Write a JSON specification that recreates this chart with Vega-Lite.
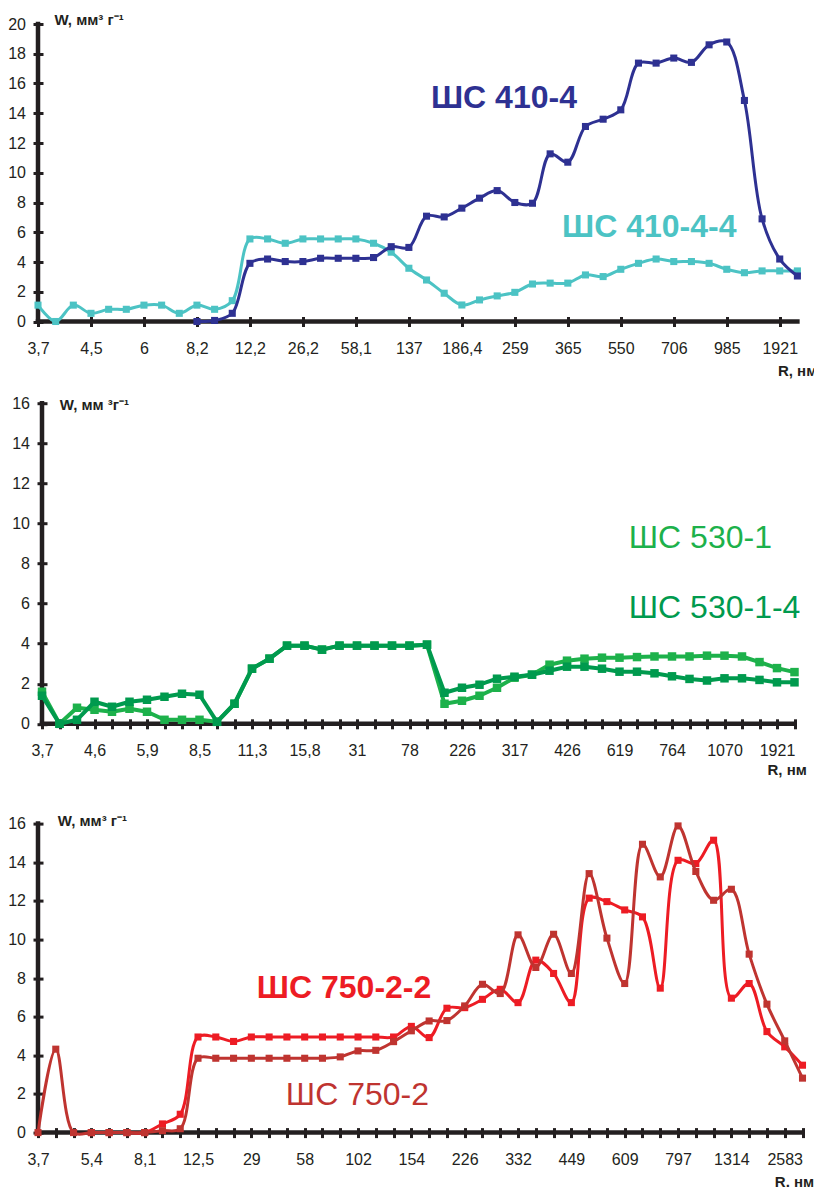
{
  "$schema": "https://vega.github.io/schema/vega-lite/v6.json",
  "padding": {"left": 7, "top": 12, "right": 0, "bottom": 0},
  "background": "white",
  "config": {
    "view": {"stroke": null},
    "font": "Liberation Sans",
    "axis": {"labelFont": "Liberation Sans", "labelFontSize": 16, "labelColor": "#231F20", "tickColor": "#231F20", "tickWidth": 3, "tickSize": 10, "tickCount": 1000, "domain": false, "grid": false, "titleFont": "Liberation Sans", "titleFontWeight": "bold", "titleFontSize": 15, "titleColor": "#231F20", "labelOverlap": false, "labelFlush": false},
    "axisY": {"offset": -5, "labelPadding": 7.5, "titleAngle": 0, "titleAlign": "left", "titleBaseline": "alphabetic"},
    "axisX": {"offset": -5, "labelPadding": 14, "titleAlign": "left", "titleBaseline": "alphabetic", "labelAngle": 0},
    "line": {"strokeJoin": "round"}
  },
  "datasets": {
    "origin": [{"i": 0, "W": 0}],
    "top": [
      {"s":"ШС 410-4-4","i":0,"W":1.1},{"s":"ШС 410-4-4","i":1,"W":0},{"s":"ШС 410-4-4","i":2,"W":1.1},{"s":"ШС 410-4-4","i":3,"W":0.55},{"s":"ШС 410-4-4","i":4,"W":0.82},{"s":"ШС 410-4-4","i":5,"W":0.82},{"s":"ШС 410-4-4","i":6,"W":1.1},{"s":"ШС 410-4-4","i":7,"W":1.1},{"s":"ШС 410-4-4","i":8,"W":0.55},{"s":"ШС 410-4-4","i":9,"W":1.1},{"s":"ШС 410-4-4","i":10,"W":0.82},{"s":"ШС 410-4-4","i":11,"W":1.4},{"s":"ШС 410-4-4","i":12,"W":5.55},{"s":"ШС 410-4-4","i":13,"W":5.55},{"s":"ШС 410-4-4","i":14,"W":5.26},{"s":"ШС 410-4-4","i":15,"W":5.55},{"s":"ШС 410-4-4","i":16,"W":5.55},{"s":"ШС 410-4-4","i":17,"W":5.55},{"s":"ШС 410-4-4","i":18,"W":5.55},{"s":"ШС 410-4-4","i":19,"W":5.26},{"s":"ШС 410-4-4","i":20,"W":4.66},{"s":"ШС 410-4-4","i":21,"W":3.58},{"s":"ШС 410-4-4","i":22,"W":2.79},{"s":"ШС 410-4-4","i":23,"W":1.9},{"s":"ШС 410-4-4","i":24,"W":1.11},{"s":"ШС 410-4-4","i":25,"W":1.45},{"s":"ШС 410-4-4","i":26,"W":1.72},{"s":"ШС 410-4-4","i":27,"W":1.96},{"s":"ШС 410-4-4","i":28,"W":2.52},{"s":"ШС 410-4-4","i":29,"W":2.58},{"s":"ШС 410-4-4","i":30,"W":2.58},{"s":"ШС 410-4-4","i":31,"W":3.13},{"s":"ШС 410-4-4","i":32,"W":3.02},{"s":"ШС 410-4-4","i":33,"W":3.51},{"s":"ШС 410-4-4","i":34,"W":3.91},{"s":"ШС 410-4-4","i":35,"W":4.2},{"s":"ШС 410-4-4","i":36,"W":4.03},{"s":"ШС 410-4-4","i":37,"W":4.03},{"s":"ШС 410-4-4","i":38,"W":3.91},{"s":"ШС 410-4-4","i":39,"W":3.51},{"s":"ШС 410-4-4","i":40,"W":3.28},{"s":"ШС 410-4-4","i":41,"W":3.4},{"s":"ШС 410-4-4","i":42,"W":3.4},{"s":"ШС 410-4-4","i":43,"W":3.4},
      {"s":"ШС 410-4","i":9,"W":0},{"s":"ШС 410-4","i":10,"W":0.07},{"s":"ШС 410-4","i":11,"W":0.55},{"s":"ШС 410-4","i":12,"W":3.91},{"s":"ШС 410-4","i":13,"W":4.2},{"s":"ШС 410-4","i":14,"W":4.03},{"s":"ШС 410-4","i":15,"W":4.03},{"s":"ШС 410-4","i":16,"W":4.25},{"s":"ШС 410-4","i":17,"W":4.25},{"s":"ШС 410-4","i":18,"W":4.25},{"s":"ШС 410-4","i":19,"W":4.3},{"s":"ШС 410-4","i":20,"W":5.03},{"s":"ШС 410-4","i":21,"W":4.98},{"s":"ШС 410-4","i":22,"W":7.08},{"s":"ШС 410-4","i":23,"W":7.03},{"s":"ШС 410-4","i":24,"W":7.62},{"s":"ШС 410-4","i":25,"W":8.29},{"s":"ШС 410-4","i":26,"W":8.8},{"s":"ШС 410-4","i":27,"W":8.0},{"s":"ШС 410-4","i":28,"W":7.95},{"s":"ШС 410-4","i":29,"W":11.27},{"s":"ШС 410-4","i":30,"W":10.71},{"s":"ШС 410-4","i":31,"W":13.11},{"s":"ШС 410-4","i":32,"W":13.6},{"s":"ШС 410-4","i":33,"W":14.23},{"s":"ШС 410-4","i":34,"W":17.37},{"s":"ШС 410-4","i":35,"W":17.37},{"s":"ШС 410-4","i":36,"W":17.71},{"s":"ШС 410-4","i":37,"W":17.42},{"s":"ШС 410-4","i":38,"W":18.6},{"s":"ШС 410-4","i":39,"W":18.79},{"s":"ШС 410-4","i":40,"W":14.86},{"s":"ШС 410-4","i":41,"W":6.9},{"s":"ШС 410-4","i":42,"W":4.2},{"s":"ШС 410-4","i":43,"W":3.06}
    ],
    "topLabels": [
      {"s":"ШС 410-4","i":22.25,"W":14.35},
      {"s":"ШС 410-4-4","i":29.67,"W":5.68}
    ],
    "mid": [
      {"s":"ШС 530-1","i":0,"W":1.6},{"s":"ШС 530-1","i":1,"W":0},{"s":"ШС 530-1","i":2,"W":0.8},{"s":"ШС 530-1","i":3,"W":0.7},{"s":"ШС 530-1","i":4,"W":0.6},{"s":"ШС 530-1","i":5,"W":0.75},{"s":"ШС 530-1","i":6,"W":0.6},{"s":"ШС 530-1","i":7,"W":0.2},{"s":"ШС 530-1","i":8,"W":0.2},{"s":"ШС 530-1","i":9,"W":0.2},{"s":"ШС 530-1","i":10,"W":0.1},{"s":"ШС 530-1","i":11,"W":1.0},{"s":"ШС 530-1","i":12,"W":2.75},{"s":"ШС 530-1","i":13,"W":3.25},{"s":"ШС 530-1","i":14,"W":3.9},{"s":"ШС 530-1","i":15,"W":3.9},{"s":"ШС 530-1","i":16,"W":3.7},{"s":"ШС 530-1","i":17,"W":3.9},{"s":"ШС 530-1","i":18,"W":3.9},{"s":"ШС 530-1","i":19,"W":3.9},{"s":"ШС 530-1","i":20,"W":3.9},{"s":"ШС 530-1","i":21,"W":3.9},{"s":"ШС 530-1","i":22,"W":3.95},{"s":"ШС 530-1","i":23,"W":1.0},{"s":"ШС 530-1","i":24,"W":1.15},{"s":"ШС 530-1","i":25,"W":1.4},{"s":"ШС 530-1","i":26,"W":1.8},{"s":"ШС 530-1","i":27,"W":2.3},{"s":"ШС 530-1","i":28,"W":2.45},{"s":"ШС 530-1","i":29,"W":2.95},{"s":"ШС 530-1","i":30,"W":3.15},{"s":"ШС 530-1","i":31,"W":3.25},{"s":"ШС 530-1","i":32,"W":3.3},{"s":"ШС 530-1","i":33,"W":3.3},{"s":"ШС 530-1","i":34,"W":3.33},{"s":"ШС 530-1","i":35,"W":3.36},{"s":"ШС 530-1","i":36,"W":3.36},{"s":"ШС 530-1","i":37,"W":3.36},{"s":"ШС 530-1","i":38,"W":3.4},{"s":"ШС 530-1","i":39,"W":3.4},{"s":"ШС 530-1","i":40,"W":3.36},{"s":"ШС 530-1","i":41,"W":3.08},{"s":"ШС 530-1","i":42,"W":2.78},{"s":"ШС 530-1","i":43,"W":2.58},
      {"s":"ШС 530-1-4","i":0,"W":1.4},{"s":"ШС 530-1-4","i":1,"W":0},{"s":"ШС 530-1-4","i":2,"W":0.2},{"s":"ШС 530-1-4","i":3,"W":1.1},{"s":"ШС 530-1-4","i":4,"W":0.85},{"s":"ШС 530-1-4","i":5,"W":1.1},{"s":"ШС 530-1-4","i":6,"W":1.2},{"s":"ШС 530-1-4","i":7,"W":1.35},{"s":"ШС 530-1-4","i":8,"W":1.5},{"s":"ШС 530-1-4","i":9,"W":1.45},{"s":"ШС 530-1-4","i":10,"W":0.1},{"s":"ШС 530-1-4","i":11,"W":1.0},{"s":"ШС 530-1-4","i":12,"W":2.75},{"s":"ШС 530-1-4","i":13,"W":3.25},{"s":"ШС 530-1-4","i":14,"W":3.9},{"s":"ШС 530-1-4","i":15,"W":3.9},{"s":"ШС 530-1-4","i":16,"W":3.7},{"s":"ШС 530-1-4","i":17,"W":3.9},{"s":"ШС 530-1-4","i":18,"W":3.9},{"s":"ШС 530-1-4","i":19,"W":3.9},{"s":"ШС 530-1-4","i":20,"W":3.9},{"s":"ШС 530-1-4","i":21,"W":3.9},{"s":"ШС 530-1-4","i":22,"W":3.95},{"s":"ШС 530-1-4","i":23,"W":1.55},{"s":"ШС 530-1-4","i":24,"W":1.8},{"s":"ШС 530-1-4","i":25,"W":1.95},{"s":"ШС 530-1-4","i":26,"W":2.25},{"s":"ШС 530-1-4","i":27,"W":2.35},{"s":"ШС 530-1-4","i":28,"W":2.45},{"s":"ШС 530-1-4","i":29,"W":2.65},{"s":"ШС 530-1-4","i":30,"W":2.85},{"s":"ШС 530-1-4","i":31,"W":2.85},{"s":"ШС 530-1-4","i":32,"W":2.75},{"s":"ШС 530-1-4","i":33,"W":2.6},{"s":"ШС 530-1-4","i":34,"W":2.6},{"s":"ШС 530-1-4","i":35,"W":2.52},{"s":"ШС 530-1-4","i":36,"W":2.37},{"s":"ШС 530-1-4","i":37,"W":2.24},{"s":"ШС 530-1-4","i":38,"W":2.16},{"s":"ШС 530-1-4","i":39,"W":2.27},{"s":"ШС 530-1-4","i":40,"W":2.27},{"s":"ШС 530-1-4","i":41,"W":2.19},{"s":"ШС 530-1-4","i":42,"W":2.07},{"s":"ШС 530-1-4","i":43,"W":2.07}
    ],
    "midLabels": [
      {"s":"ШС 530-1","i":33.53,"W":8.75},
      {"s":"ШС 530-1-4","i":33.53,"W":5.3}
    ],
    "bot": [
      {"s":"ШС 750-2-2","i":3,"W":0},{"s":"ШС 750-2-2","i":4,"W":0},{"s":"ШС 750-2-2","i":5,"W":0},{"s":"ШС 750-2-2","i":6,"W":0},{"s":"ШС 750-2-2","i":7,"W":0.45},{"s":"ШС 750-2-2","i":8,"W":0.95},{"s":"ШС 750-2-2","i":9,"W":4.95},{"s":"ШС 750-2-2","i":10,"W":4.95},{"s":"ШС 750-2-2","i":11,"W":4.72},{"s":"ШС 750-2-2","i":12,"W":4.95},{"s":"ШС 750-2-2","i":13,"W":4.95},{"s":"ШС 750-2-2","i":14,"W":4.95},{"s":"ШС 750-2-2","i":15,"W":4.95},{"s":"ШС 750-2-2","i":16,"W":4.95},{"s":"ШС 750-2-2","i":17,"W":4.95},{"s":"ШС 750-2-2","i":18,"W":4.95},{"s":"ШС 750-2-2","i":19,"W":4.95},{"s":"ШС 750-2-2","i":20,"W":4.95},{"s":"ШС 750-2-2","i":21,"W":5.5},{"s":"ШС 750-2-2","i":22,"W":4.92},{"s":"ШС 750-2-2","i":23,"W":6.44},{"s":"ШС 750-2-2","i":24,"W":6.47},{"s":"ШС 750-2-2","i":25,"W":6.9},{"s":"ШС 750-2-2","i":26,"W":7.42},{"s":"ШС 750-2-2","i":27,"W":6.73},{"s":"ШС 750-2-2","i":28,"W":8.93},{"s":"ШС 750-2-2","i":29,"W":8.24},{"s":"ШС 750-2-2","i":30,"W":6.73},{"s":"ШС 750-2-2","i":31,"W":12.14},{"s":"ШС 750-2-2","i":32,"W":11.96},{"s":"ШС 750-2-2","i":33,"W":11.53},{"s":"ШС 750-2-2","i":34,"W":11.17},{"s":"ШС 750-2-2","i":35,"W":7.48},{"s":"ШС 750-2-2","i":36,"W":14.1},{"s":"ШС 750-2-2","i":37,"W":13.93},{"s":"ШС 750-2-2","i":38,"W":15.14},{"s":"ШС 750-2-2","i":39,"W":6.96},{"s":"ШС 750-2-2","i":40,"W":7.72},{"s":"ШС 750-2-2","i":41,"W":5.23},{"s":"ШС 750-2-2","i":42,"W":4.44},{"s":"ШС 750-2-2","i":43,"W":3.49},
      {"s":"ШС 750-2","i":0,"W":0},{"s":"ШС 750-2","i":1,"W":4.32},{"s":"ШС 750-2","i":2,"W":0},{"s":"ШС 750-2","i":3,"W":0},{"s":"ШС 750-2","i":4,"W":0},{"s":"ШС 750-2","i":5,"W":0},{"s":"ШС 750-2","i":6,"W":0},{"s":"ШС 750-2","i":7,"W":0.1},{"s":"ШС 750-2","i":8,"W":0.2},{"s":"ШС 750-2","i":9,"W":3.85},{"s":"ШС 750-2","i":10,"W":3.85},{"s":"ШС 750-2","i":11,"W":3.85},{"s":"ШС 750-2","i":12,"W":3.85},{"s":"ШС 750-2","i":13,"W":3.85},{"s":"ШС 750-2","i":14,"W":3.85},{"s":"ШС 750-2","i":15,"W":3.85},{"s":"ШС 750-2","i":16,"W":3.85},{"s":"ШС 750-2","i":17,"W":3.92},{"s":"ШС 750-2","i":18,"W":4.23},{"s":"ШС 750-2","i":19,"W":4.26},{"s":"ШС 750-2","i":20,"W":4.71},{"s":"ШС 750-2","i":21,"W":5.27},{"s":"ШС 750-2","i":22,"W":5.78},{"s":"ШС 750-2","i":23,"W":5.8},{"s":"ШС 750-2","i":24,"W":6.56},{"s":"ШС 750-2","i":25,"W":7.68},{"s":"ШС 750-2","i":26,"W":7.2},{"s":"ШС 750-2","i":27,"W":10.24},{"s":"ШС 750-2","i":28,"W":8.55},{"s":"ШС 750-2","i":29,"W":10.27},{"s":"ШС 750-2","i":30,"W":8.24},{"s":"ШС 750-2","i":31,"W":13.41},{"s":"ШС 750-2","i":32,"W":10.07},{"s":"ШС 750-2","i":33,"W":7.72},{"s":"ШС 750-2","i":34,"W":14.93},{"s":"ШС 750-2","i":35,"W":13.24},{"s":"ШС 750-2","i":36,"W":15.88},{"s":"ШС 750-2","i":37,"W":13.52},{"s":"ШС 750-2","i":38,"W":12.03},{"s":"ШС 750-2","i":39,"W":12.6},{"s":"ШС 750-2","i":40,"W":9.24},{"s":"ШС 750-2","i":41,"W":6.65},{"s":"ШС 750-2","i":42,"W":4.75},{"s":"ШС 750-2","i":43,"W":2.82}
    ],
    "botLabels": [
      {"s":"ШС 750-2-2","i":12.31,"W":6.98},
      {"s":"ШС 750-2","i":13.94,"W":1.43}
    ]
  },
  "spacing": 81.2,
  "bounds": "flush",
  "vconcat": [
    {
      "width": 759.4,
      "height": 297.5,
      "layer": [
        {
          "data": {"name": "origin"},
          "mark": {"type": "rule", "stroke": "#231F20", "strokeWidth": 4.5, "strokeCap": "square"},
          "encoding": {
            "x": {"field": "i", "type": "quantitative", "scale": {"domain": [0, 43], "nice": false, "zero": false},
                  "axis": {"title": "R, нм", "titleX": 739.4, "titleY": 58.5, "values": [0,3,6,9,12,15,18,21,24,27,30,33,36,39,42],
                           "labelExpr": "['3,7','4,5','6','8,2','12,2','26,2','58,1','137','186,4','259','365','550','706','985','1921'][round(datum.value/3)]"}},
            "y": {"field": "W", "type": "quantitative", "scale": {"domain": [0, 20], "nice": false, "zero": false},
                  "axis": {"title": "W, мм³ г⁻¹", "titleX": 11, "titleY": 0, "format": "d", "values": [0,2,4,6,8,10,12,14,16,18,20]}},
            "y2": {"datum": 20}
          }
        },
        {
          "data": {"name": "origin"},
          "mark": {"type": "rule", "stroke": "#231F20", "strokeWidth": 4.5, "strokeCap": "square"},
          "encoding": {"x": {"field": "i", "type": "quantitative"}, "x2": {"datum": 43}, "y": {"field": "W", "type": "quantitative"}}
        },
        {
          "data": {"name": "top"},
          "transform": [{"filter": "datum.s == 'ШС 410-4-4'"}],
          "mark": {"type": "line", "strokeWidth": 3, "interpolate": "catmull-rom", "point": {"shape": "square", "size": 50, "filled": true, "opacity": 1}},
          "encoding": {
            "x": {"field": "i", "type": "quantitative"},
            "y": {"field": "W", "type": "quantitative"},
            "color": {"field": "s", "type": "nominal", "legend": null,
                      "scale": {"domain": ["ШС 410-4","ШС 410-4-4","ШС 530-1","ШС 530-1-4","ШС 750-2-2","ШС 750-2"], "range": ["#2E3192","#4CC3C4","#1DB14B","#009A4E","#ED1C24","#BF3430"]}}
          }
        },
        {
          "data": {"name": "top"},
          "transform": [{"filter": "datum.s == 'ШС 410-4'"}],
          "mark": {"type": "line", "strokeWidth": 3, "interpolate": "catmull-rom", "point": {"shape": "square", "size": 50, "filled": true, "opacity": 1}},
          "encoding": {
            "x": {"field": "i", "type": "quantitative"},
            "y": {"field": "W", "type": "quantitative"},
            "color": {"field": "s", "type": "nominal", "legend": null}
          }
        },
        {
          "data": {"name": "topLabels"},
          "mark": {"type": "text", "font": "Liberation Sans", "fontSize": 32, "fontWeight": "bold", "align": "left", "baseline": "alphabetic"},
          "encoding": {
            "x": {"field": "i", "type": "quantitative"},
            "y": {"field": "W", "type": "quantitative"},
            "text": {"field": "s"},
            "color": {"field": "s", "type": "nominal", "legend": null}
          }
        }
      ]
    },
    {
      "spacing": 99.4,
      "bounds": "flush",
      "vconcat": [
        {
          "width": 756.5,
          "height": 320.6,
          "layer": [
            {
              "data": {"name": "origin"},
              "mark": {"type": "rule", "stroke": "#231F20", "strokeWidth": 4.5, "strokeCap": "square"},
              "encoding": {
                "x": {"field": "i", "type": "quantitative", "scale": {"domain": [-0.2286, 43], "nice": false, "zero": false},
                      "axis": {"title": "R, нм", "titleX": 729, "titleY": 55.7, "values": [0,1,2,3,4,5,6,7,8,9,10,11,12,13,14,15,16,17,18,19,20,21,22,23,24,25,26,27,28,29,30,31,32,33,34,35,36,37,38,39,40,41,42,43],
                               "labelExpr": "datum.value % 3 == 0 ? ['3,7','4,6','5,9','8,5','11,3','15,8','31','78','226','317','426','619','764','1070','1921'][round(datum.value/3)] : ''"}},
                "y": {"field": "W", "type": "quantitative", "scale": {"domain": [0, 16], "nice": false, "zero": false},
                      "axis": {"title": "W, мм ³г⁻¹", "offset": -9, "titleX": 12.3, "titleY": 6.6, "format": "d", "values": [0,2,4,6,8,10,12,14,16]}},
                "y2": {"datum": 16}
              }
            },
            {
              "data": {"name": "origin"},
              "mark": {"type": "rule", "stroke": "#231F20", "strokeWidth": 4.5, "strokeCap": "square"},
              "encoding": {"x": {"field": "i", "type": "quantitative"}, "x2": {"datum": 43}, "y": {"field": "W", "type": "quantitative"}}
            },
            {
              "data": {"name": "mid"},
              "transform": [{"filter": "datum.s == 'ШС 530-1'"}],
              "mark": {"type": "line", "strokeWidth": 4, "point": {"shape": "square", "size": 72, "filled": true, "opacity": 1}},
              "encoding": {
                "x": {"field": "i", "type": "quantitative"},
                "y": {"field": "W", "type": "quantitative"},
                "color": {"field": "s", "type": "nominal", "legend": null,
                          "scale": {"domain": ["ШС 410-4","ШС 410-4-4","ШС 530-1","ШС 530-1-4","ШС 750-2-2","ШС 750-2"], "range": ["#2E3192","#4CC3C4","#1DB14B","#009A4E","#ED1C24","#BF3430"]}}
              }
            },
            {
              "data": {"name": "mid"},
              "transform": [{"filter": "datum.s == 'ШС 530-1-4'"}],
              "mark": {"type": "line", "strokeWidth": 4, "point": {"shape": "square", "size": 72, "filled": true, "opacity": 1}},
              "encoding": {
                "x": {"field": "i", "type": "quantitative"},
                "y": {"field": "W", "type": "quantitative"},
                "color": {"field": "s", "type": "nominal", "legend": null}
              }
            },
            {
              "data": {"name": "midLabels"},
              "mark": {"type": "text", "font": "Liberation Sans", "fontSize": 32, "fontWeight": "normal", "align": "left", "baseline": "alphabetic"},
              "encoding": {
                "x": {"field": "i", "type": "quantitative"},
                "y": {"field": "W", "type": "quantitative"},
                "text": {"field": "s"},
                "color": {"field": "s", "type": "nominal", "legend": null}
              }
            }
          ]
        },
        {
          "width": 764.5,
          "height": 309,
          "layer": [
            {
              "data": {"name": "origin"},
              "mark": {"type": "rule", "stroke": "#231F20", "strokeWidth": 4.5, "strokeCap": "square"},
              "encoding": {
                "x": {"field": "i", "type": "quantitative", "scale": {"domain": [0, 43], "nice": false, "zero": false},
                      "axis": {"title": "R, нм", "titleX": 736.3, "titleY": 59.3, "values": [0,1,2,3,4,5,6,7,8,9,10,11,12,13,14,15,16,17,18,19,20,21,22,23,24,25,26,27,28,29,30,31,32,33,34,35,36,37,38,39,40,41,42,43],
                               "labelExpr": "datum.value % 3 == 0 ? ['3,7','5,4','8,1','12,5','29','58','102','154','226','332','449','609','797','1314','2583'][round(datum.value/3)] : ''"}},
                "y": {"field": "W", "type": "quantitative", "scale": {"domain": [0, 16], "nice": false, "zero": false},
                      "axis": {"title": "W, мм³ г⁻¹", "titleX": 14.3, "titleY": 2.3, "format": "d", "values": [0,2,4,6,8,10,12,14,16]}},
                "y2": {"datum": 16}
              }
            },
            {
              "data": {"name": "origin"},
              "mark": {"type": "rule", "stroke": "#231F20", "strokeWidth": 4.5, "strokeCap": "square"},
              "encoding": {"x": {"field": "i", "type": "quantitative"}, "x2": {"datum": 43}, "y": {"field": "W", "type": "quantitative"}}
            },
            {
              "data": {"name": "bot"},
              "transform": [{"filter": "datum.s == 'ШС 750-2-2'"}],
              "mark": {"type": "line", "strokeWidth": 3, "interpolate": "catmull-rom", "point": {"shape": "square", "size": 50, "filled": true, "opacity": 1}},
              "encoding": {
                "x": {"field": "i", "type": "quantitative"},
                "y": {"field": "W", "type": "quantitative"},
                "color": {"field": "s", "type": "nominal", "legend": null,
                          "scale": {"domain": ["ШС 410-4","ШС 410-4-4","ШС 530-1","ШС 530-1-4","ШС 750-2-2","ШС 750-2"], "range": ["#2E3192","#4CC3C4","#1DB14B","#009A4E","#ED1C24","#BF3430"]}}
              }
            },
            {
              "data": {"name": "bot"},
              "transform": [{"filter": "datum.s == 'ШС 750-2'"}],
              "mark": {"type": "line", "strokeWidth": 3, "interpolate": "catmull-rom", "point": {"shape": "square", "size": 50, "filled": true, "opacity": 1}},
              "encoding": {
                "x": {"field": "i", "type": "quantitative"},
                "y": {"field": "W", "type": "quantitative"},
                "color": {"field": "s", "type": "nominal", "legend": null}
              }
            },
            {
              "data": {"name": "botLabels"},
              "transform": [{"filter": "datum.s == 'ШС 750-2-2'"}],
              "mark": {"type": "text", "font": "Liberation Sans", "fontSize": 32, "fontWeight": "bold", "align": "left", "baseline": "alphabetic"},
              "encoding": {
                "x": {"field": "i", "type": "quantitative"},
                "y": {"field": "W", "type": "quantitative"},
                "text": {"field": "s"},
                "color": {"field": "s", "type": "nominal", "legend": null}
              }
            },
            {
              "data": {"name": "botLabels"},
              "transform": [{"filter": "datum.s == 'ШС 750-2'"}],
              "mark": {"type": "text", "font": "Liberation Sans", "fontSize": 32, "fontWeight": "normal", "align": "left", "baseline": "alphabetic"},
              "encoding": {
                "x": {"field": "i", "type": "quantitative"},
                "y": {"field": "W", "type": "quantitative"},
                "text": {"field": "s"},
                "color": {"field": "s", "type": "nominal", "legend": null}
              }
            }
          ]
        }
      ]
    }
  ]
}
